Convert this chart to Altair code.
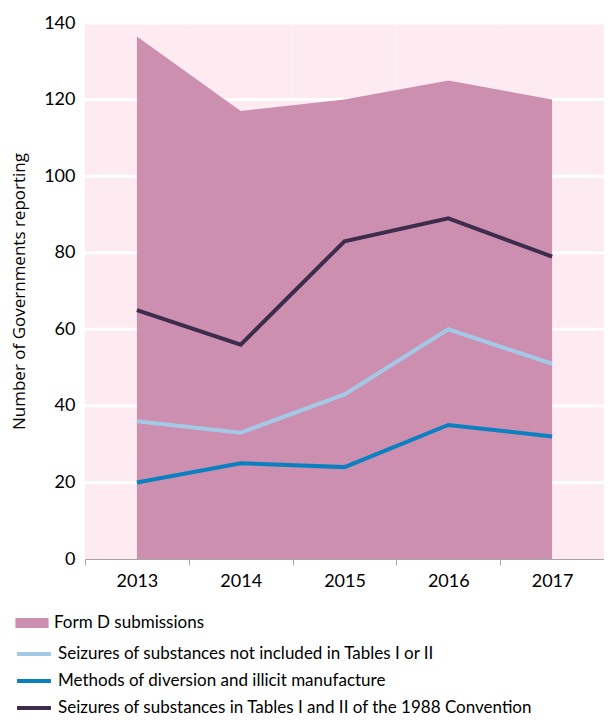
import altair as alt
import pandas as pd

years = ["2013", "2014", "2015", "2016", "2017"]
form_d = [136.5, 117, 120, 125, 120]
not_included = [36, 33, 43, 60, 51]
methods = [20, 25, 24, 35, 32]
tables_1988 = [65, 56, 83, 89, 79]
grid_values = [20, 40, 60, 80, 100, 120, 140]
y_min, y_max = 0, 140

area_name = "Form D submissions"
line_names = [
    "Seizures of substances not included in Tables I or II",
    "Methods of diversion and illicit manufacture",
    "Seizures of substances in Tables I and II of the 1988 Convention",
]
line_colors = ["#a3c9e6", "#0a80c0", "#3d2c4c"]

area_df = pd.DataFrame({"year": years, "value": form_d, "series": area_name})
rows = []
for name, vals in zip(line_names, [not_included, methods, tables_1988]):
    for y, v in zip(years, vals):
        rows.append({"year": y, "value": v, "series": name})
line_df = pd.DataFrame(rows)
grid_df = pd.DataFrame({"value": grid_values})
bg_df = pd.DataFrame({"year": years, "value": [y_min] * 5, "value2": [y_max] * 5})

FONT = "Lato"

x_axis = alt.Axis(
    title=None,
    labelAngle=0,
    tickBand="extent",
    domainColor="#a6a6a6",
    tickColor="#a6a6a6",
    tickSize=6,
    labelPadding=7,
    labelFontSize=18,
    labelColor="#000000",
    labelFont=FONT,
    grid=False,
)
x_scale = alt.Scale(type="band", paddingInner=0, paddingOuter=0)
x_enc = alt.X("year:O", bandPosition=0.5, scale=x_scale, axis=x_axis)
x_rect = alt.X("year:O", scale=x_scale, axis=x_axis)

y_scale = alt.Scale(domain=[y_min, y_max], nice=False)
y_axis = alt.Axis(
    title="Number of Governments reporting",
    titleFontSize=17,
    titleFontWeight="normal",
    titleFont="Open Sans",
    titleColor="#000000",
    titlePadding=15,
    values=[0, 20, 40, 60, 80, 100, 120, 140],
    domain=False,
    ticks=False,
    labelPadding=10,
    labelFontSize=18,
    labelColor="#000000",
    labelFont=FONT,
    grid=False,
)
y_enc = alt.Y("value:Q", scale=y_scale, axis=y_axis)

background = alt.Chart(bg_df).mark_rect(color="#fdebf1", strokeWidth=0).encode(
    x=x_rect,
    y=y_enc,
    y2="value2:Q",
)

grid = alt.Chart(grid_df).mark_rule(color="#ffffff", strokeWidth=3).encode(
    y=y_enc
)

area = alt.Chart(area_df).mark_area(opacity=1).encode(
    x=x_enc,
    y=y_enc,
    fill=alt.Fill(
        "series:N",
        scale=alt.Scale(domain=[area_name], range=["#cc8fb0"]),
        legend=alt.Legend(
            title=None,
            orient="none",
            legendX=-70,
            legendY=583,
            symbolType="M-1,-0.3H1V0.3H-1Z",
            symbolSize=1100,
            symbolOpacity=1,
            symbolStrokeWidth=0,
            labelFontSize=17,
            labelFont=FONT,
            labelColor="#000000",
            labelOffset=5,
        ),
    ),
)

lines = alt.Chart(line_df).mark_line(strokeWidth=4).encode(
    x=x_enc,
    y=y_enc,
    color=alt.Color(
        "series:N",
        scale=alt.Scale(domain=line_names, range=line_colors),
        sort=line_names,
        legend=alt.Legend(
            title=None,
            orient="none",
            legendX=-70,
            legendY=612,
            symbolType="stroke",
            symbolSize=1150,
            symbolStrokeWidth=4,
            labelFontSize=17,
            labelFont=FONT,
            labelColor="#000000",
            labelOffset=5,
            rowPadding=0,
            labelLimit=700,
        ),
    ),
)

chart = (
    alt.layer(background, grid, area, lines)
    .resolve_scale(color="independent", fill="independent")
    .properties(
        width=519,
        height=536,
        autosize=alt.AutoSizeParams(type="none"),
        padding={"left": 77, "top": 15, "right": 0, "bottom": 159},
    )
    .configure_view(stroke=None)
    .configure(background="#ffffff")
)

chart.save("out.html", embed_options={"renderer": "svg", "actions": False})
